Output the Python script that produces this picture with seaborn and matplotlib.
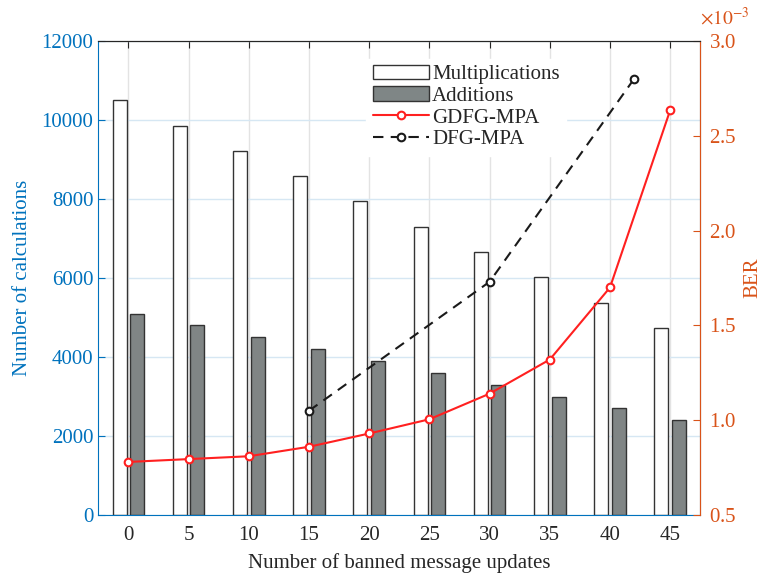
import matplotlib
matplotlib.use("Agg")
import matplotlib.pyplot as plt
import seaborn as sns
import pandas as pd
from matplotlib.patches import Patch
from matplotlib.lines import Line2D

# values
updates = [0, 5, 10, 15, 20, 25, 30, 35, 40, 45]
multiplications = [10500, 9860, 9220, 8580, 7940, 7300, 6660, 6020, 5380, 4740]
additions = [5100, 4800, 4500, 4200, 3900, 3600, 3300, 3000, 2700, 2400]

gdfg_x = [0, 5, 10, 15, 20, 25, 30, 35, 40, 45]
gdfg_ber = [0.78, 0.795, 0.81, 0.86, 0.93, 1.005, 1.14, 1.32, 1.70, 2.635]  # x1e-3
dfg_x = [15, 30, 42]
dfg_ber = [1.05, 1.73, 2.80]  # x1e-3

BLUE = "#0072BD"
ORANGE = "#D95319"
GREY_BAR = "#7f8686"
FS = 15

sns.set_style("white")
plt.rcParams["font.family"] = ["Liberation Serif", "DejaVu Serif"]
plt.rcParams["mathtext.fontset"] = "stix"

fig = plt.figure(figsize=(7.62, 5.75), dpi=100)
ax = fig.add_axes([0.129, 0.1043, 0.79, 0.8244])

df = pd.DataFrame({
    "updates": updates * 2,
    "count": multiplications + additions,
    "type": ["Multiplications"] * len(updates) + ["Additions"] * len(updates),
})
sns.barplot(data=df, x="updates", y="count", hue="type", native_scale=True,
            width=0.584, gap=0.2, errorbar=None, legend=False,
            palette={"Multiplications": "white", "Additions": GREY_BAR},
            edgecolor="#333333", linewidth=1.0, ax=ax, zorder=2)

ax.set_xlim(-2.5, 47.5)
ax.set_ylim(0, 12000)
ax.set_xticks(updates)
ax.set_yticks(range(0, 12001, 2000))
ax.xaxis.grid(True, color="#e3e3e3", linewidth=1.0, zorder=0)
ax.yaxis.grid(True, color="#d6e7f3", linewidth=1.0, zorder=0)
ax.set_axisbelow(True)

ax.tick_params(axis="y", colors=BLUE, direction="in", length=5, labelsize=FS)
ax.tick_params(axis="x", colors="#262626", direction="in", length=5, labelsize=FS,
               top=True, pad=8)
ax.set_ylabel("Number of calculations", color=BLUE, fontsize=FS, labelpad=7)
ax.set_xlabel("Number of banned message updates", color="#262626", fontsize=FS, labelpad=6)
ax.spines["left"].set_color(BLUE)
ax.spines["bottom"].set_color(BLUE)
ax.spines["top"].set_color("#262626")

ax2 = ax.twinx()
MS = 5.5
sns.lineplot(x=gdfg_x, y=[v * 1e-3 for v in gdfg_ber], ax=ax2, color="#ff2020",
             linewidth=1.5, marker="o", markersize=MS, markerfacecolor="white",
             markeredgecolor="#ff2020", markeredgewidth=1.5)
sns.lineplot(x=dfg_x, y=[v * 1e-3 for v in dfg_ber], ax=ax2, color="#1a1a1a",
             linewidth=1.5, dashes=(5, 3.5), marker="o", markersize=MS,
             markerfacecolor="white", markeredgecolor="#1a1a1a", markeredgewidth=1.5)
ax2.set_ylim(0.5e-3, 3.0e-3)
ax2.set_yticks([v * 1e-3 for v in [0.5, 1.0, 1.5, 2.0, 2.5, 3.0]])
ax2.ticklabel_format(axis="y", style="sci", scilimits=(0, 0), useMathText=True)
ax2.yaxis.get_offset_text().set_visible(False)
ax2.text(1.0, 1.035, r"$\times10^{-3}$", transform=ax2.transAxes, color=ORANGE,
         fontsize=14, ha="left", va="baseline")
ax2.tick_params(axis="y", colors=ORANGE, direction="in", length=5, labelsize=FS, pad=6)
ax2.set_ylabel("BER", color=ORANGE, fontsize=FS, labelpad=5)
ax2.spines["right"].set_color(ORANGE)
ax2.spines["left"].set_visible(False)
ax2.spines["bottom"].set_visible(False)
ax2.spines["top"].set_color("#262626")

handles = [
    Patch(facecolor="white", edgecolor="#333333", linewidth=1.0),
    Patch(facecolor=GREY_BAR, edgecolor="#333333", linewidth=1.0),
    Line2D([], [], color="#ff2020", linewidth=1.5, marker="o", markersize=MS,
           markerfacecolor="white", markeredgecolor="#ff2020", markeredgewidth=1.5),
    Line2D([], [], color="#1a1a1a", linewidth=1.5, dashes=(5, 3.5), marker="o",
           markersize=MS, markerfacecolor="white", markeredgecolor="#1a1a1a",
           markeredgewidth=1.5),
]
labels = ["Multiplications", "Additions", "GDFG-MPA", "DFG-MPA"]
leg = ax2.legend(handles, labels, loc="upper left", bbox_to_anchor=(0.428, 0.985),
                 fontsize=FS, frameon=True, facecolor="white", edgecolor="white",
                 framealpha=1.0, fancybox=False, handlelength=2.7, handletextpad=0.15,
                 labelspacing=0.1, borderpad=0.3, numpoints=1)

fig.savefig("out.png", dpi=100)
